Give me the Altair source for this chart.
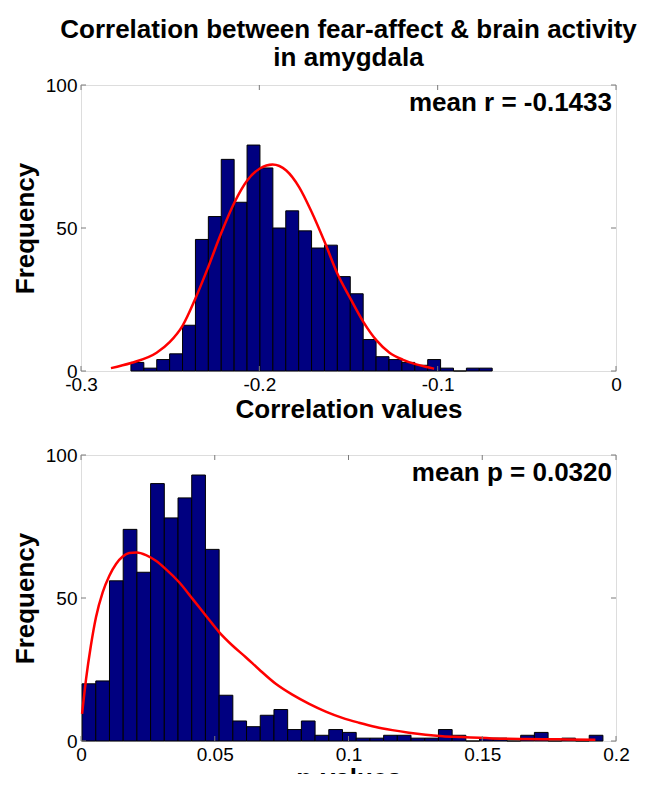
import altair as alt
import pandas as pd

# ---------------- data ----------------
# Top histogram: correlation values
r_first_edge = -0.2720
r_bin_width = 0.007235
r_counts = [3, 1, 4, 6, 16, 46, 54, 74, 59, 79, 71, 50, 56, 49, 43, 44, 33, 27,
            11, 5, 4, 3, 2, 4, 1, 0, 1, 1]
r_curve_x = [-0.2832, -0.2720, -0.2576, -0.2503, -0.2430, -0.2359, -0.2287, -0.2212,
             -0.2139, -0.2068, -0.1995, -0.1926, -0.1849, -0.1777, -0.1706, -0.1633,
             -0.1562, -0.1489, -0.1416, -0.1343, -0.1270, -0.1197, -0.1125, -0.1054,
             -0.1020]
r_curve_y = [1.0, 2.8, 6.4, 10.1, 15.9, 25.3, 36.3, 48.5, 59.0, 66.6, 70.9, 72.2,
             70.1, 64.3, 55.5, 45.0, 34.0, 25.3, 17.1, 10.7, 6.4, 4.0, 2.4, 1.3, 0.8]
r_ticks = [-0.3, -0.2, -0.1, 0.0]
r_label = "mean r = -0.1433"

# Bottom histogram: p-values
p_first_edge = 0.0004
p_bin_width = 0.005124
p_counts = [20, 21, 56, 74, 59, 90, 78, 85, 93, 67, 16, 7, 5, 9, 11, 4, 7, 2, 4, 3,
            1, 1, 2, 2, 1, 1, 4, 2, 0, 1, 1, 0, 2, 3, 0, 1, 0, 2]
p_curve_x = [0.0004, 0.0019, 0.0037, 0.0056, 0.0081, 0.0106, 0.0131, 0.0156, 0.0180,
             0.0208, 0.0243, 0.0280, 0.0317, 0.0367, 0.0417, 0.0467, 0.0517, 0.0566,
             0.0616, 0.0666, 0.0728, 0.0790, 0.0853, 0.0915, 0.0977, 0.1039, 0.1102,
             0.1164, 0.1226, 0.1288, 0.1351, 0.1413, 0.1537, 0.1662, 0.1786, 0.1923]
p_curve_y = [9.5, 21.7, 33.4, 43.3, 52.0, 57.8, 61.9, 64.5, 65.7, 65.9, 65.0, 63.0,
             60.1, 55.5, 49.7, 43.8, 38.0, 33.4, 29.3, 25.0, 20.0, 16.2, 13.0, 10.3,
             8.1, 6.4, 4.9, 3.8, 2.9, 2.2, 1.7, 1.4, 0.9, 0.7, 0.6, 0.45]
p_ticks = [0.0, 0.05, 0.1, 0.15, 0.2]
p_label = "mean p = 0.0320"

y_ticks = [0, 50, 100]

title_lines = ["Correlation between fear-affect & brain activity", "in amygdala"]

# ---------------- style ----------------
W, H = 535, 286
FONT = "Liberation Sans"
BAR_FILL = "#000080"
CURVE = "#ff0000"
BOX = "#7a7a7a"
TICK_LEN = 5


def panel(first_edge, width, counts, cx, cy, xticks, xdomain, label, xtitle, xfmt,
          xtitle_pad, title=None):
    bins = pd.DataFrame({
        "start": [first_edge + i * width for i in range(len(counts))],
        "end": [first_edge + (i + 1) * width for i in range(len(counts))],
        "count": counts,
    })
    curve = pd.DataFrame({"x": cx, "y": cy})
    xt = pd.DataFrame({"v": xticks})
    yt = pd.DataFrame({"v": y_ticks})
    lab = pd.DataFrame({"t": [label]})

    xscale = alt.Scale(domain=xdomain, nice=False, zero=False)
    yscale = alt.Scale(domain=[0, 100], nice=False)

    xaxis = alt.Axis(values=xticks, labelExpr=xfmt, title=xtitle, ticks=False,
                     domain=False, grid=False, labelFontSize=19, labelFont=FONT,
                     labelColor="black", labelPadding=4, titleFontSize=26,
                     titleFont=FONT, titleFontWeight="bold", titleColor="black",
                     titlePadding=xtitle_pad, labelFlush=False)
    yaxis = alt.Axis(values=y_ticks, title="Frequency", ticks=False, domain=False,
                     grid=False, labelFontSize=19, labelFont=FONT, labelColor="black",
                     labelPadding=4, titleFontSize=26, titleFont=FONT,
                     titleFontWeight="bold", titleColor="black", titlePadding=7,
                     labelFlush=False)

    bars = alt.Chart(bins).mark_rect(fill=BAR_FILL, stroke="black",
                                     strokeWidth=1).encode(
        x=alt.X("start:Q", scale=xscale, axis=xaxis),
        x2="end:Q",
        y=alt.Y("count:Q", scale=yscale, axis=yaxis),
        y2=alt.datum(0),
    )
    line = alt.Chart(curve).mark_line(color=CURVE, strokeWidth=2.5,
                                      interpolate="monotone").encode(
        x=alt.X("x:Q", scale=xscale), y=alt.Y("y:Q", scale=yscale))
    xt_bottom = alt.Chart(xt).mark_rule(color=BOX).encode(
        x=alt.X("v:Q", scale=xscale), y=alt.value(H), y2=alt.value(H - TICK_LEN))
    xt_top = alt.Chart(xt).mark_rule(color=BOX).encode(
        x=alt.X("v:Q", scale=xscale), y=alt.value(0), y2=alt.value(TICK_LEN))
    yt_left = alt.Chart(yt).mark_rule(color=BOX).encode(
        y=alt.Y("v:Q", scale=yscale), x=alt.value(0), x2=alt.value(TICK_LEN))
    yt_right = alt.Chart(yt).mark_rule(color=BOX).encode(
        y=alt.Y("v:Q", scale=yscale), x=alt.value(W), x2=alt.value(W - TICK_LEN))
    text = alt.Chart(lab).mark_text(align="right", baseline="top", fontSize=26,
                                    fontWeight="bold", font=FONT,
                                    color="black").encode(
        x=alt.value(W - 4), y=alt.value(5), text="t:N")

    props = dict(width=W, height=H)
    if title is not None:
        props["title"] = title
    return alt.layer(bars, line, xt_bottom, xt_top, yt_left, yt_right,
                     text).properties(**props)


top_title = alt.TitleParams(text=title_lines, fontSize=26, fontWeight="bold",
                            font=FONT, color="black", anchor="middle",
                            lineHeight=28, offset=5)

top = panel(r_first_edge, r_bin_width, r_counts, r_curve_x, r_curve_y, r_ticks,
            [-0.3, 0.0], r_label, "Correlation values",
            "datum.value < 0 ? '-' + format(-datum.value, '.1~f') : format(datum.value, '.1~f')",
            2, title=top_title)
bottom = panel(p_first_edge, p_bin_width, p_counts, p_curve_x, p_curve_y, p_ticks,
               [0.0, 0.2], p_label, "p-values", "format(datum.value, '.2~f')", 1)

chart = alt.vconcat(top, bottom, spacing=22).properties(
    padding={"left": 3, "top": 8, "right": 0, "bottom": -18}
).configure_view(stroke=BOX, strokeWidth=1.2).configure(background="white")

chart.save("out.html", embed_options={"renderer": "svg", "actions": False})
